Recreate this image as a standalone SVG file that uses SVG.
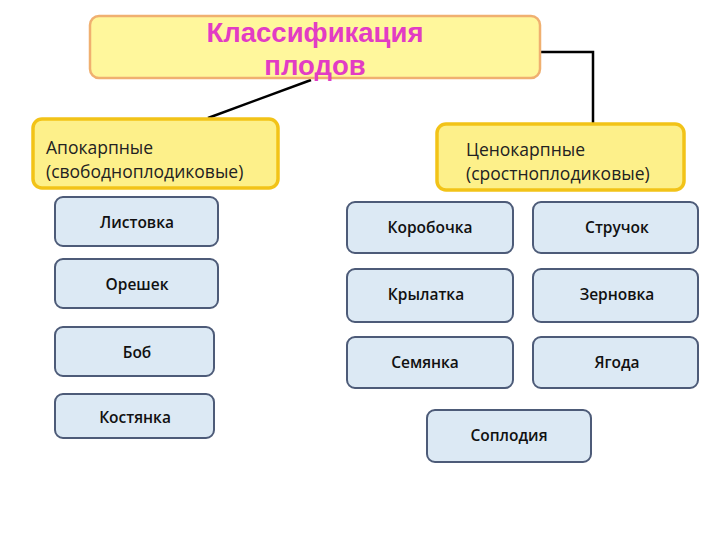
<svg xmlns="http://www.w3.org/2000/svg" width="720" height="540" viewBox="0 0 720 540">
<style>
.title{fill:#fff79c;stroke:#f0b070;stroke-width:2.5}
.group{fill:#fdf08a;stroke:#f2c318;stroke-width:3.5}
.leaf{fill:#dce9f4;stroke:#4d5b78;stroke-width:2}
.tt{font-family:"Liberation Sans",Arial,sans-serif;font-weight:bold;font-size:27.5px;fill:#e23cc4;text-anchor:middle}
.gt{font-family:"Open Sans","Noto Sans",sans-serif;font-size:17.5px;fill:#222}
.lt{font-family:"Open Sans","Noto Sans",sans-serif;font-weight:600;font-size:15.5px;fill:#111;text-anchor:middle}
.conn{stroke:#000;stroke-width:2.5;fill:none}
</style>
<rect width="720" height="540" fill="#fff"/>
<g id="connectors">
<line class="conn" x1="311" y1="80" x2="208" y2="118"/>
<polyline class="conn" points="540,52 593,52 593,123"/>
</g>
<g id="title">
<rect class="title" x="90" y="16" width="450" height="62" rx="9"/>
<text class="tt" x="315" y="42">Классификация</text>
<text class="tt" x="315" y="75">плодов</text>
</g>
<g id="apocarp">
<rect class="group" x="33" y="119" width="245" height="69" rx="9"/>
<text class="gt" x="46" y="154">Апокарпные</text>
<text class="gt" x="46" y="178">(свободноплодиковые)</text>
</g>
<g id="cenocarp">
<rect class="group" x="437" y="124" width="247" height="66" rx="9"/>
<text class="gt" x="466" y="156">Ценокарпные</text>
<text class="gt" x="466" y="180">(сростноплодиковые)</text>
</g>
<g id="listovka">
<rect class="leaf" x="55" y="197" width="163" height="49" rx="8"/>
<text class="lt" x="137" y="228">Листовка</text>
</g>
<g id="oreshek">
<rect class="leaf" x="55" y="259" width="163" height="49" rx="8"/>
<text class="lt" x="137" y="290">Орешек</text>
</g>
<g id="bob">
<rect class="leaf" x="55" y="327" width="159" height="49" rx="8"/>
<text class="lt" x="137" y="358">Боб</text>
</g>
<g id="kostyanka">
<rect class="leaf" x="55" y="394" width="159" height="44" rx="8"/>
<text class="lt" x="135" y="423">Костянка</text>
</g>
<g id="korobochka">
<rect class="leaf" x="347" y="202" width="166" height="51" rx="8"/>
<text class="lt" x="430" y="233">Коробочка</text>
</g>
<g id="struchok">
<rect class="leaf" x="533" y="202" width="165" height="51" rx="8"/>
<text class="lt" x="617" y="233">Стручок</text>
</g>
<g id="krylatka">
<rect class="leaf" x="347" y="269" width="166" height="53" rx="8"/>
<text class="lt" x="426" y="300">Крылатка</text>
</g>
<g id="zernovka">
<rect class="leaf" x="533" y="269" width="165" height="53" rx="8"/>
<text class="lt" x="617" y="300">Зерновка</text>
</g>
<g id="semyanka">
<rect class="leaf" x="347" y="337" width="166" height="51" rx="8"/>
<text class="lt" x="425" y="368">Семянка</text>
</g>
<g id="yagoda">
<rect class="leaf" x="533" y="337" width="165" height="51" rx="8"/>
<text class="lt" x="617" y="368">Ягода</text>
</g>
<g id="soplodiya">
<rect class="leaf" x="427" y="410" width="164" height="52" rx="8"/>
<text class="lt" x="509" y="441">Соплодия</text>
</g>
</svg>
